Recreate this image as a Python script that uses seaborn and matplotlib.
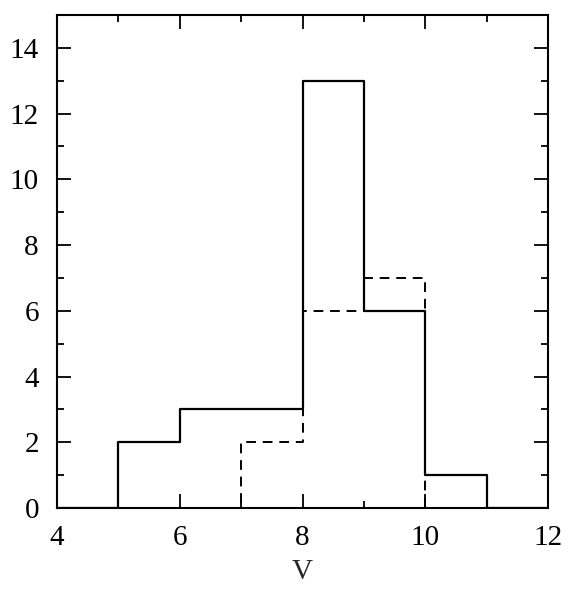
import numpy as np
import pandas as pd
import matplotlib
matplotlib.use("Agg")
import matplotlib.pyplot as plt
import seaborn as sns
from matplotlib.ticker import MultipleLocator

# Data (outer bins with zero counts close the outline down to the baseline)
bin_edges = [4, 5, 6, 7, 8, 9, 10, 11, 12]
solid_counts = [0, 2, 3, 3, 13, 6, 1, 0]
dashed_edges = [6, 7, 8, 9, 10, 11]
dashed_counts = [0, 2, 6, 7, 0]

sns.set_theme(style="ticks")
plt.rcParams['font.family'] = ['Liberation Serif', 'DejaVu Serif']

solid_df = pd.DataFrame({
    "V": [(a + b) / 2 for a, b in zip(bin_edges[:-1], bin_edges[1:])],
    "n": solid_counts,
})
dashed_df = pd.DataFrame({
    "V": [(a + b) / 2 for a, b in zip(dashed_edges[:-1], dashed_edges[1:])],
    "n": dashed_counts,
})

fig = plt.figure(figsize=(5.70, 5.94), dpi=100)
ax = fig.add_axes([57 / 570, 1 - 508 / 594, (548 - 57) / 570, (508 - 15) / 594])

sns.histplot(data=dashed_df, x="V", weights="n", bins=dashed_edges, element="step",
             fill=False, color="black", linewidth=1.4, linestyle=(0, (5, 3.5)), ax=ax)
sns.histplot(data=solid_df, x="V", weights="n", bins=bin_edges, element="step",
             fill=False, color="black", linewidth=1.6, ax=ax)

ax.set_xlim(4, 12)
ax.set_ylim(0, 15)
ax.xaxis.set_major_locator(MultipleLocator(2))
ax.xaxis.set_minor_locator(MultipleLocator(1))
ax.yaxis.set_major_locator(MultipleLocator(2))
ax.yaxis.set_minor_locator(MultipleLocator(1))
ax.tick_params(which="both", direction="in", top=True, right=True, colors="black",
               labelsize=21, width=1.3)
ax.tick_params(which="major", length=10)
ax.tick_params(axis="y", which="major", pad=13)
ax.tick_params(axis="x", which="major", pad=12)
ax.tick_params(which="minor", length=5)
for s in ax.spines.values():
    s.set_linewidth(1.5)
    s.set_color("black")
ax.set_xlabel("V", fontsize=21, labelpad=6)
ax.set_ylabel("")

fig.savefig("out.png", dpi=100, facecolor="white")
